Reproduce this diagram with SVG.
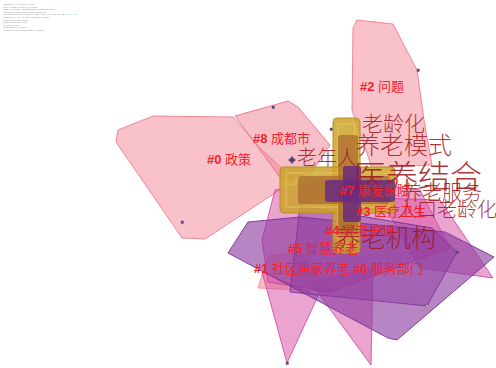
<svg xmlns="http://www.w3.org/2000/svg" width="496" height="368" viewBox="0 0 496 368">
<style>
.hdr{font-family:"Liberation Sans",sans-serif;font-size:2.5px;fill:#8a8a8a}
.pk{fill:#f59aa6;fill-opacity:.6;stroke:#ec6f82;stroke-width:.8;stroke-linejoin:round}
.pk2{fill:#ee7f8f;fill-opacity:.5;stroke:#e8667a;stroke-width:.8;stroke-linejoin:round}
.mg{fill:#d85aa8;fill-opacity:.55;stroke:#cc3f98;stroke-width:.8;stroke-linejoin:round}
.pu{fill:#8a3a9e;fill-opacity:.62;stroke:#7a2e98;stroke-width:.9;stroke-linejoin:round}
.sa{fill:#f5a0a6;fill-opacity:.7;stroke:#ee8a90;stroke-width:.8;stroke-linejoin:round}
.lab{font-family:"Liberation Sans","Noto Sans CJK SC",sans-serif;font-size:13px;fill:#f2232c}
.lab .n{font-weight:bold}
.kw{font-family:"Noto Sans CJK SC",serif;font-weight:300;fill:#a11a1e;fill-opacity:.9}
.nd{fill:#6a4a9a;stroke:#444;stroke-width:.4}
</style>
<g id="header">
<text class="hdr" x="3" y="5">CiteSpace, v. 5.7.R5 (64-bit)</text>
<text class="hdr" x="3" y="7.6">May 1, 2021 10:12:40 AM CST</text>
<text class="hdr" x="3" y="10.2">CNKI: C:\Users\Admin\Desktop\citespace\data</text>
<text class="hdr" x="3" y="12.8">Timespan: 2000-2021 (Slice Length=1)</text>
<text class="hdr" x="3" y="15.4">Selection Criteria: g-index (k=25), LRF=3.0, L/N=10, LBY=5, e=1.0</text>
<text class="hdr" x="3" y="18">Network: N=341, E=584 (Density=0.0101)</text>
<text class="hdr" x="3" y="20.6">Largest CC: 301 (88%)</text>
<text class="hdr" x="3" y="23.2">Nodes Labeled: 1.0%</text>
<text class="hdr" x="3" y="25.8">Pruning: None</text>
<text class="hdr" x="3" y="28.4">Modularity Q=0.6513</text>
<text class="hdr" x="3" y="31">Weighted Mean Silhouette S=0.8876</text>
</g>
<g id="clusters">
<g id="c0"><polygon class="pk" points="153,116 233,117 262,150 295,180 205,239 182,238 116,142 118,130"/></g>
<g id="c8"><polygon class="pk2" points="235,116 288,101 298,107 330,145 312,172 282,180"/></g>
<g id="c2"><polygon class="pk" points="357,20 393,24 417,70 424,120 432,165 372,168 352,110 353,28"/></g>
<g id="c_salmon"><polygon class="sa" points="258,288 268,256 300,252 332,292"/></g>
<g id="c_t1"><polygon class="mg" points="262,272 318,296 287,363"/></g>
<g id="c_t2"><polygon class="mg" points="310,282 373,268 371,365"/></g>
<g id="c_m1"><polygon class="mg" points="275,190 330,180 420,190 450,248 330,292 268,282 262,240"/></g>
<g id="c_m2"><polygon class="mg" points="380,198 440,200 493,278 420,268"/></g>
<g id="c_p2"><polygon class="pu" points="300,206 432,228 457,252 427,306 290,292" style="fill-opacity:.45"/></g>
<g id="c1"><polygon class="pu" points="228,253 248,222 300,217 445,232 494,257 397,340 388,338"/></g>
<g id="c_cross">
<rect x="333" y="118" width="27" height="135" rx="4" fill="#cda32c" fill-opacity=".85" stroke="#b8901e" stroke-width="1"/>
<rect x="280" y="167" width="115" height="46" rx="4" fill="#cda32c" fill-opacity=".85" stroke="#b8901e" stroke-width="1"/>
<rect x="338" y="124" width="17" height="123" fill="none" stroke="#e8c860" stroke-width="1.2" stroke-opacity=".7"/>
<rect x="286" y="173" width="103" height="34" fill="none" stroke="#e8c860" stroke-width="1.2" stroke-opacity=".7"/>
<rect x="338" y="135" width="20" height="100" rx="3" fill="#a8662e" fill-opacity=".7"/>
<rect x="298" y="176" width="92" height="28" rx="3" fill="#a8662e" fill-opacity=".7"/>
<rect x="343" y="166" width="18" height="56" rx="3" fill="#6a2a80" fill-opacity=".85"/>
<rect x="325" y="180" width="70" height="22" rx="3" fill="#6a2a80" fill-opacity=".85"/>
</g>
</g>
<g id="nodes">
<g id="n1"><circle class="nd" cx="292" cy="160" r="2.5"/><path d="M288 160h8M292 156v8" stroke="#5a2a5a" stroke-width=".8"/></g>
<g id="n2"><rect class="nd" x="272" y="106" width="2.5" height="2.5"/></g>
<g id="n3"><rect class="nd" x="181" y="221" width="2.5" height="2.5"/></g>
<g id="n4"><rect class="nd" x="417" y="69" width="2.5" height="2.5"/></g>
<g id="n5"><rect class="nd" x="330" y="128" width="2.5" height="2.5"/></g>
<g id="n6"><rect class="nd" x="456" y="251" width="2.5" height="2.5"/></g>
<g id="n7"><rect class="nd" x="426" y="305" width="2.5" height="2.5" style="fill:#e8c8a0"/></g>
<g id="n8"><rect class="nd" x="286" y="362" width="2.5" height="2.5"/></g>
</g>
<g id="keywords">
<text class="kw" x="362" y="131" font-size="21">老龄化</text>
<text class="kw" x="356" y="154" font-size="24">养老模式</text>
<text class="kw" x="297" y="165" font-size="20">老年人</text>
<text class="kw" x="354" y="188" font-size="32">医养结合</text>
<text class="kw" x="402" y="200" font-size="20">养老服务</text>
<text class="kw" x="397" y="217" font-size="20">人口老龄化</text>
<text class="kw" x="336" y="247" font-size="25">养老机构</text>
</g>
<g id="labels">
<text class="lab" x="360" y="91"><tspan class="n">#2</tspan> 问题</text>
<text class="lab" x="253" y="143"><tspan class="n">#8</tspan> 成都市</text>
<text class="lab" x="207" y="164"><tspan class="n">#0</tspan> 政策</text>
<text class="lab" x="340" y="195"><tspan class="n">#7</tspan> 康复医院</text>
<text class="lab" x="356" y="216"><tspan class="n">#3</tspan> 医疗卫生</text>
<text class="lab" x="325" y="235"><tspan class="n">#4</tspan> 养老护理</text>
<text class="lab" x="288" y="253"><tspan class="n">#5</tspan> 智慧养老</text>
<text class="lab" x="254" y="273"><tspan class="n">#1</tspan> 社区居家养老</text>
<text class="lab" x="353" y="273"><tspan class="n">#6</tspan> 服务部门</text>
</g>
</svg>
